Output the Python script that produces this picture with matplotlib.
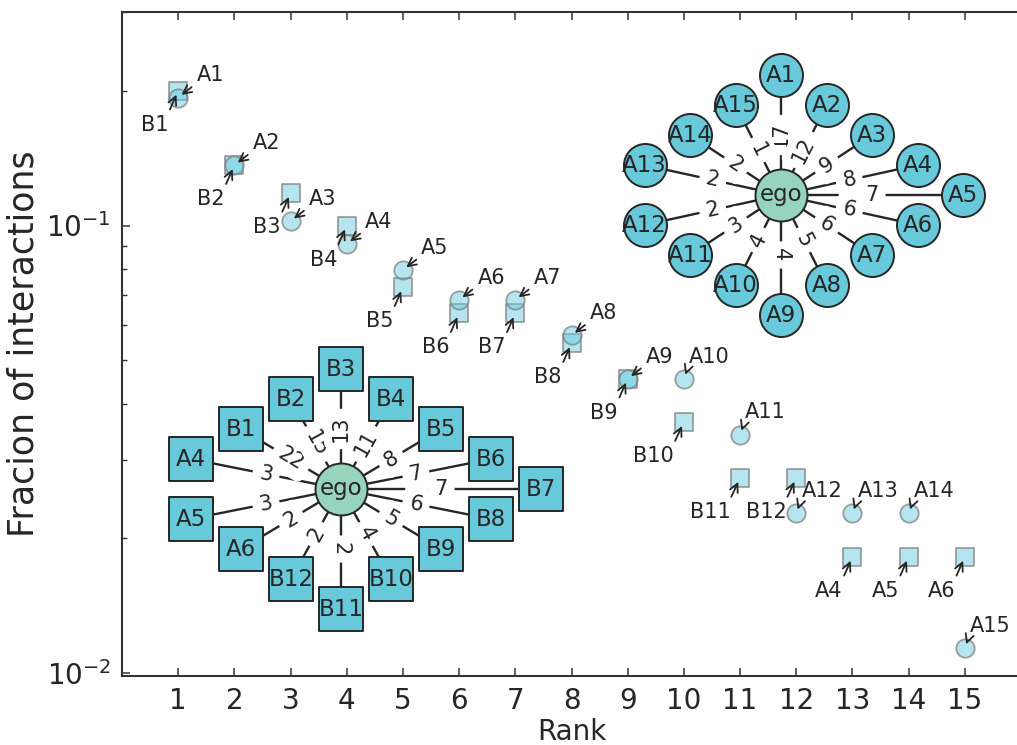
import numpy as np
import matplotlib.pyplot as plt

# interaction counts between ego and each alter, network A
a_names = ['A1', 'A2', 'A3', 'A4', 'A5', 'A6', 'A7', 'A8', 'A9', 'A10',
           'A11', 'A12', 'A13', 'A14', 'A15']
a_counts = [17, 12, 9, 8, 7, 6, 6, 5, 4, 4, 3, 2, 2, 2, 1]

# network B (shares A4, A5, A6 with network A)
b_names = ['B1', 'B2', 'B3', 'B4', 'B5', 'B6', 'B7', 'B8', 'B9', 'B10',
           'B11', 'B12', 'A4', 'A5', 'A6']
b_counts = [22, 15, 13, 11, 8, 7, 7, 6, 5, 4, 2, 2, 3, 3, 2]

# names written next to the ranked points
a_rank_labels = a_names
b_rank_labels = ['B1', 'B2', 'B3', 'B4', 'B5', 'B6', 'B7', 'B8', 'B9', 'B10',
                 'B11', 'B12', 'A4', 'A5', 'A6']

# where each alter sits on the diamond around ego (slot 12 stays empty)
a_slots = [0, 1, 2, 3, 4, 5, 6, 7, 8, 9, 10, 11, 13, 14, 15]
b_slots = [14, 15, 0, 1, 2, 3, 4, 5, 6, 7, 8, 9, 13, 11, 10]

TXT = '#262626'
NODE = '#68c9db'
EGO = '#96d4be'

W, H = 1017, 745
fig = plt.figure(figsize=(W / 100, H / 100), dpi=100)


def px_axes(x0, y0, x1, y1):
    # axes from pixel box (top-left origin)
    return fig.add_axes([x0 / W, 1 - y1 / H, (x1 - x0) / W, (y1 - y0) / H])


ax = px_axes(122, 12, 1021, 676)

a_frac = np.array(a_counts) / np.sum(a_counts)
b_frac = np.sort(np.array(b_counts))[::-1] / np.sum(b_counts)
rank = np.arange(1, 16)

ax.scatter(rank, b_frac, marker='s', s=180, facecolor=(0.4, 0.8, 0.87, 0.48),
           edgecolor=(0.5, 0.5, 0.5, 0.75), linewidth=1.3, zorder=3)
ax.scatter(rank, a_frac, marker='o', s=175, facecolor=(0.4, 0.8, 0.87, 0.48),
           edgecolor=(0.5, 0.5, 0.5, 0.75), linewidth=1.3, zorder=3)

arrow = dict(arrowstyle='->', color=TXT, lw=1.3, shrinkA=2, shrinkB=3)
for x, y, lab in zip(rank, a_frac, a_rank_labels):
    ax.annotate(lab, xy=(x, y), xytext=(33, 16), textcoords='offset points',
                ha='right', va='center', fontsize=15, color=TXT, zorder=4,
                arrowprops=dict(arrow, relpos=(0, 0.1)))
for x, y, lab in zip(rank, b_frac, b_rank_labels):
    ax.annotate(lab, xy=(x, y), xytext=(-7, -24.5), textcoords='offset points',
                ha='right', va='center', fontsize=15, color=TXT, zorder=4,
                arrowprops=dict(arrow, relpos=(0.95, 0.95)))

ax.set_yscale('log')
ax.set_xlim(0, 16)
ax.set_ylim(0.00985, 0.3)
ax.set_xticks(rank)
ax.tick_params(which='both', direction='in', top=True, right=False,
               colors='#333333', labelcolor=TXT)
ax.tick_params(which='major', length=6, width=1.1, labelsize=20, pad=8)
ax.tick_params(which='minor', length=3.5, width=1)
for sp in ax.spines.values():
    sp.set_linewidth(1.5)
    sp.set_color('#333333')
ax.set_xlabel('Rank', fontsize=20, color=TXT, labelpad=2)
ax.set_ylabel('Fracion of interactions', fontsize=25, color=TXT, labelpad=4)


def diamond(slot, r=4):
    verts = [(0, r), (r, 0), (0, -r), (-r, 0), (0, r)]
    side, step = divmod(slot, r)
    (x0, y0), (x1, y1) = verts[side], verts[side + 1]
    return x0 + (x1 - x0) * step / r, y0 + (y1 - y0) * step / r


def draw_ego(nax, names, counts, slots, marker, size):
    nax.set_xlim(-5, 5)
    nax.set_ylim(-5, 5)
    nax.axis('off')
    pos = [diamond(s) for s in slots]
    for (x, y), w in zip(pos, counts):
        nax.plot([0, x], [0, y], color=TXT, lw=1.7, zorder=1)
        p0 = nax.transData.transform((0, 0))
        p1 = nax.transData.transform((x, y))
        ang = np.degrees(np.arctan2(p1[1] - p0[1], p1[0] - p0[0]))
        if ang > 90:
            ang -= 180
        elif ang < -90:
            ang += 180
        nax.text(x / 2, y / 2, str(w), rotation=ang, ha='center', va='center',
                 fontsize=15, color=TXT, zorder=2,
                 bbox=dict(boxstyle='round', fc='white', ec='white'))
    xs, ys = zip(*pos)
    nax.scatter(xs, ys, marker=marker, s=size, color=NODE, edgecolor=TXT,
                linewidth=1.4, zorder=3)
    for (x, y), n in zip(pos, names):
        nax.text(x, y, n, ha='center', va='center', fontsize=16.5, color=TXT,
                 zorder=4)
    nax.scatter([0], [0], marker='o', s=1400, color=EGO, edgecolor=TXT,
                linewidth=1.4, zorder=3)
    nax.text(0, 0, 'ego', ha='center', va='center', fontsize=16.5, color=TXT,
             zorder=4)


ax_a = px_axes(781 - 227.5, 195 - 150, 781 + 227.5, 195 + 150)
draw_ego(ax_a, a_names, a_counts, a_slots, 'o', 960)

ax_b = px_axes(341 - 250, 489 - 150, 341 + 250, 489 + 150)
draw_ego(ax_b, b_names, b_counts, b_slots, 's', 1000)

fig.savefig('out.png', dpi=100)
